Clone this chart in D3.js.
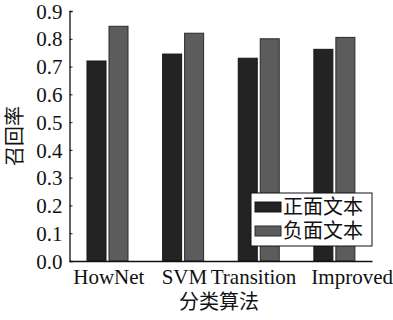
<!DOCTYPE html>
<html><head><meta charset="utf-8">
<script src="https://cdn.jsdelivr.net/npm/d3@7"></script>
<style>
body{margin:0;background:#fff;}
text.lat{font-family:"Liberation Serif","Times New Roman",serif;fill:#111;}
text.cjk{font-family:"Noto Sans CJK SC","Noto Sans CJK JP",sans-serif;fill:#111;}
</style></head>
<body><svg id="c" width="393" height="320"></svg>
<script>
const categories = ["HowNet","SVM","Transition","Improved"];
const seriesNames = ["正面文本","负面文本"];
const positive = [0.72,0.745,0.73,0.762];
const negative = [0.845,0.82,0.80,0.805];
const yTicks = [0.0,0.1,0.2,0.3,0.4,0.5,0.6,0.7,0.8,0.9];
const colors = ["#232323","#5c5c5c"];
const strokes = ["#151515","#2a2a2a"];

const svg = d3.select("#c");
const L=69.5, R=372, T=11, B=261;
const x = d3.scaleBand().domain(categories).range([L,R]).padding(0);
const xs = d3.scaleBand().domain(seriesNames).range([17.5,58.5]).paddingInner(0.136).paddingOuter(0);
const y = d3.scaleLinear().domain([0,0.9]).range([B,T]);

const data = categories.map((c,i)=>({c, vals:[positive[i],negative[i]]}));
const g = svg.append("g");
data.forEach(d=>{
  d.vals.forEach((v,j)=>{
    g.append("rect")
      .attr("x", x(d.c)+xs(seriesNames[j]))
      .attr("y", y(v))
      .attr("width", xs.bandwidth())
      .attr("height", B - y(v))
      .attr("fill", colors[j]).attr("stroke", strokes[j]).attr("stroke-width",1);
  });
});

// y axis
const yAxis = d3.axisLeft(y).tickValues(yTicks).tickSize(-3).tickPadding(7).tickFormat(d3.format(".1f"));
const ya = svg.append("g").attr("transform",`translate(${L},0)`).call(yAxis);
ya.select(".domain").attr("stroke","#111").attr("stroke-width",1.3);
ya.selectAll(".tick line").attr("stroke","#111");
ya.selectAll("text").attr("class","lat").style("font-size","21px").attr("dy","0.34em");

// x axis (label nudges mimic the reference's hand placement)
const labelNudge = {HowNet:1.5, SVM:1.5, Transition:-5, Improved:18};
const xAxis = d3.axisBottom(x).tickSize(0).tickPadding(8);
const xa = svg.append("g").attr("transform",`translate(0,${B})`).call(xAxis);
xa.select(".domain").attr("stroke","#111").attr("stroke-width",1.3);
xa.selectAll("text").attr("class","lat").style("font-size","21px")
  .attr("dx", d=>labelNudge[d]);

// titles
svg.append("text").attr("class","cjk").attr("x",219).attr("y",309)
  .attr("text-anchor","middle").style("font-size","20px").text("分类算法");
svg.append("text").attr("class","cjk").attr("transform","translate(22,136) rotate(-90)")
  .attr("text-anchor","middle").style("font-size","20px").text("召回率");

// legend
const lg = svg.append("g");
lg.append("rect").attr("x",251).attr("y",193).attr("width",121).attr("height",53)
  .attr("fill","#fff").attr("stroke","#111").attr("stroke-width",1);
seriesNames.forEach((s,j)=>{
  const yy = 202 + j*24;
  lg.append("rect").attr("x",255).attr("y",yy).attr("width",26).attr("height",10)
    .attr("fill",colors[j]).attr("stroke",strokes[j]);
  lg.append("text").attr("class","cjk").attr("x",283).attr("y",yy+12)
    .style("font-size","20px").text(s);
});
</script></body></html>
